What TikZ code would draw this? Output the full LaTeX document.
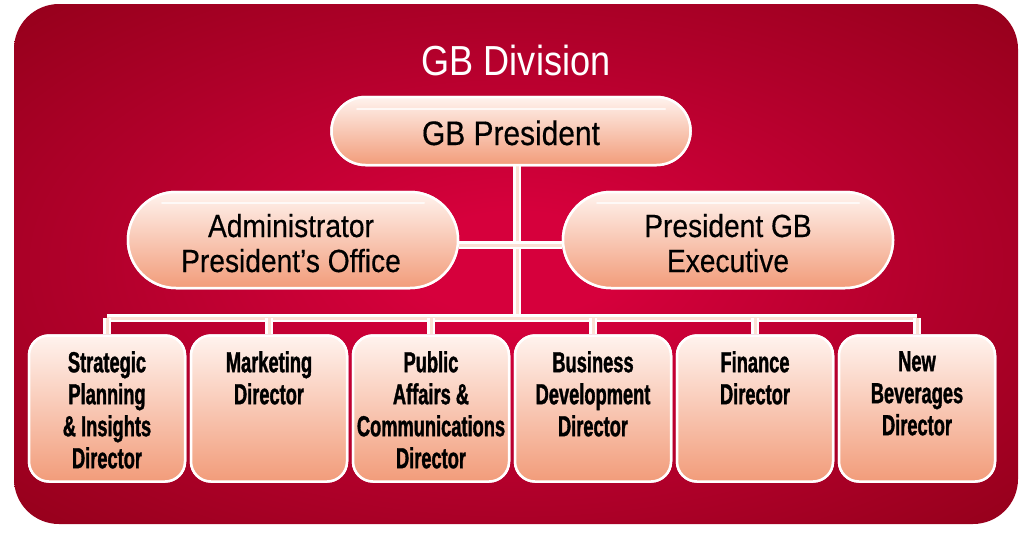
\documentclass[tikz,border=0pt]{standalone}
\usepackage{fontspec}
\setmainfont{Liberation Sans}
\newfontfamily\titlefont[FakeStretch=0.86]{Liberation Sans}
\newfontfamily\pillfont[FakeStretch=0.88,FakeBold=0.4]{Liberation Sans}
\newfontfamily\boxfont[FakeStretch=0.63,BoldFeatures={FakeBold=1.2}]{Liberation Sans}
\definecolor{bgin}{HTML}{D6003C}
\definecolor{bgmid}{HTML}{B0002A}
\definecolor{bgout}{HTML}{8C0016}
\definecolor{peachtop}{HTML}{FFF3EE}
\definecolor{peachbot}{HTML}{F29C7A}
\definecolor{lineinner}{HTML}{FBE0D4}
\pgfdeclareradialshading{bgshade}{\pgfpoint{0bp}{0bp}}{color(0bp)=(bgin); color(5bp)=(bgin); color(22bp)=(bgmid); color(40bp)=(bgout); color(70bp)=(bgout)}
\begin{document}
\begin{tikzpicture}[x=1pt,y=-1pt,
  pill/.style={rectangle, draw=white, line width=2.5pt, top color=peachtop, bottom color=peachbot, inner sep=0pt},
  dirbox/.style={rectangle, draw=white, line width=2.5pt, rounded corners=20pt, top color=peachtop, bottom color=peachbot, minimum width=156pt, minimum height=146pt, inner sep=0pt},
  pilltext/.style={font=\pillfont\fontsize{32}{35}\selectfont, align=center, inner sep=0pt, text=black},
  boxtext/.style={font=\boxfont\bfseries\fontsize{29}{32}\selectfont, align=center, inner sep=0pt, text=black, anchor=north},
  conn/.style={line width=8pt, draw=white, postaction={draw=lineinner, line width=3pt}},
  hilite/.style={draw=white, line width=2pt, opacity=0.75, line cap=round}
]
\useasboundingbox (0,0) rectangle (1024,533);
% background
\shade[shading=bgshade, rounded corners=45pt] (14,4) rectangle (1018,524);
% title
\node[font=\titlefont\fontsize{42}{42}\selectfont, text=white, inner sep=0pt, anchor=base] (title) at (516,75) {GB Division};
% coordinates for connectors
\coordinate (top) at (517,165);
\coordinate (bus) at (517,318);
\coordinate (busL) at (107,318);
\coordinate (busR) at (917,318);
% pills
\node[pill, minimum width=359pt, minimum height=68pt, rounded corners=34pt] (pres) at (511,131) {};
\node[pill, minimum width=330pt, minimum height=96pt, rounded corners=48pt] (admin) at (293,240) {};
\node[pill, minimum width=330pt, minimum height=96pt, rounded corners=48pt] (exec) at (728,240) {};
% bottom boxes
\foreach \i/\x in {1/107,2/269,3/431,4/593,5/755,6/917}{
  \node[dirbox] (b\i) at (\x,408.5) {};
}
% connectors
\draw[conn] (top) -- (bus);
\draw[conn] ([yshift=-5pt]admin.east) -- ([yshift=-5pt]exec.west);
\draw[conn] (busL) -- (busR);
\foreach \i in {1,...,6}{
  \draw[conn] (b\i.north |- bus) -- (b\i.north);
}
% redraw pills and boxes on top of connector ends
\node[pill, minimum width=359pt, minimum height=68pt, rounded corners=34pt] at (511,131) {};
\node[pill, minimum width=330pt, minimum height=96pt, rounded corners=48pt] at (293,240) {};
\node[pill, minimum width=330pt, minimum height=96pt, rounded corners=48pt] at (728,240) {};
\foreach \i/\x in {1/107,2/269,3/431,4/593,5/755,6/917}{
  \node[dirbox] at (\x,408.5) {};
}
% highlights
\draw[hilite] (357,109) -- (665,109);
\draw[hilite] (162,203) -- (424,203);
\draw[hilite] (597,203) -- (859,203);
% pill texts
\node[pilltext, anchor=base, font=\pillfont\fontsize{34}{34}\selectfont] (tpres) at (511,145) {GB President};
\node[pilltext, anchor=base] (tadmin1) at (291,237) {Administrator};
\node[pilltext, anchor=base] (tadmin2) at (291,272) {President’s Office};
\node[pilltext, anchor=base] (texec1) at (728,237) {President GB};
\node[pilltext, anchor=base] (texec2) at (728,272) {Executive};
% box texts
\node[boxtext] (t1) at (107,351) {Strategic\\Planning\\\& Insights\\Director};
\node[boxtext] (t2) at (269,351) {Marketing\\Director};
\node[boxtext] (t3) at (431,351) {Public\\Affairs \&\\Communications\\Director};
\node[boxtext] (t4) at (593,351) {Business\\Development\\Director};
\node[boxtext] (t5) at (755,351) {Finance\\Director};
\node[boxtext] (t6) at (917,351) {New\\Beverages\\Director};
\end{tikzpicture}
\end{document}
